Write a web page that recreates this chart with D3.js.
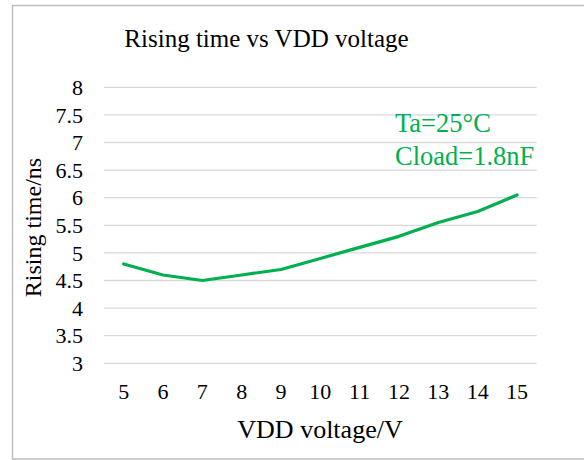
<!DOCTYPE html>
<html><head><meta charset="utf-8">
<script src="https://cdn.jsdelivr.net/npm/d3@7"></script>
<style>body{margin:0;background:#fff}svg{display:block}</style>
</head><body>
<script>
const categories = [5,6,7,8,9,10,11,12,13,14,15];
const risingTime = [4.8,4.6,4.5,4.6,4.7,4.9,5.1,5.3,5.55,5.75,6.05];
const yTicks = [3,3.5,4,4.5,5,5.5,6,6.5,7,7.5,8];
const title = "Rising time vs VDD voltage";
const xTitle = "VDD voltage/V";
const yTitle = "Rising time/ns";
const notes = ["Ta=25°C","Cload=1.8nF"];

const FONT='"Liberation Serif","Times New Roman",serif';
const W=584,H=460;
const svg=d3.select("body").append("svg").attr("width",W).attr("height",H).style("font-family",FONT);
svg.append("rect").attr("x",12.5).attr("y",5.5).attr("width",W).attr("height",453.5)
  .attr("fill","#fff").attr("stroke","#bfbfbf").attr("stroke-width",1.5);

const x=d3.scaleBand().domain(categories).range([104,536.7]);
const y=d3.scaleLinear().domain([3,8]).range([363.3,87.3]);

svg.append("g").selectAll("line").data(yTicks).join("line")
  .attr("x1",104).attr("x2",536.7).attr("y1",d=>y(d)).attr("y2",d=>y(d))
  .attr("stroke","#d9d9d9").attr("stroke-width",1.3);

const yAxis=d3.axisLeft(y).tickValues(yTicks).tickSize(0).tickPadding(0).tickFormat(d3.format(""));
const ya=svg.append("g").attr("transform","translate(83,0)").call(yAxis);
ya.select(".domain").remove();
ya.selectAll("text").attr("fill","#000").attr("dy","0.33em")
  .style("font-family",FONT).style("font-size","22px");

const xAxis=d3.axisBottom(x).tickSize(0).tickPadding(0);
const xa=svg.append("g").attr("transform","translate(0,399.3)").call(xAxis);
xa.select(".domain").remove();
xa.selectAll("text").attr("fill","#000").attr("dy","0")
  .style("font-family",FONT).style("font-size","22px");

const line=d3.line().x((d,i)=>x(categories[i])+x.bandwidth()/2).y(d=>y(d));
svg.append("path").datum(risingTime).attr("d",line).attr("fill","none")
  .attr("stroke","#00b050").attr("stroke-width",3.2).attr("stroke-linecap","round").attr("stroke-linejoin","round");

svg.append("text").attr("x",266.5).attr("y",47).attr("text-anchor","middle").style("font-size","25px").attr("fill","#000").text(title);
svg.append("text").attr("x",320).attr("y",438).attr("text-anchor","middle").style("font-size","26px").attr("fill","#000").text(xTitle);
svg.append("text").attr("transform","translate(40.5,227.5) rotate(-90)").attr("text-anchor","middle").style("font-size","24px").attr("fill","#000").text(yTitle);
svg.selectAll("text.note").data(notes).join("text").attr("class","note")
  .attr("x",395).attr("y",(d,i)=>131.7+i*33.3).style("font-size","26.5px").attr("fill","#00b050").text(d=>d);
</script>
</body></html>
